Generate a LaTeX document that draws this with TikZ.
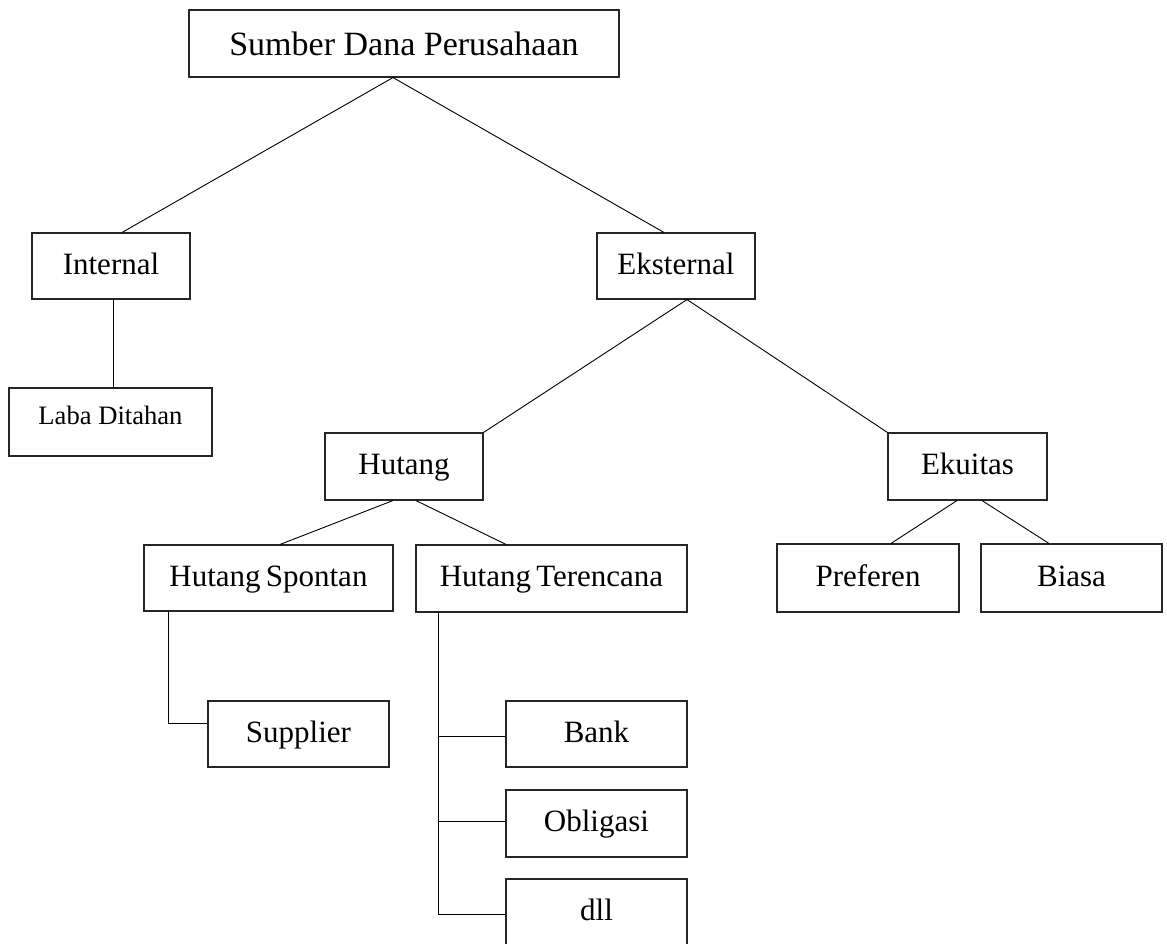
\documentclass[tikz,border=0pt]{standalone}
\usepackage{fontspec}
\setmainfont{Liberation Serif}
\usetikzlibrary{calc}
\begin{document}
\begin{tikzpicture}[x=1pt,y=-1pt,
  box/.style={draw=black!85, line width=1.1pt, inner sep=0pt, align=center,
    text height=22pt, text depth=6pt,
    font=\fontsize{31}{36}\selectfont},
  link/.style={draw=black, line width=0.9pt}]
\clip (0,0) rectangle (1167,943);
\fill[white] (0,0) rectangle (1167,943);

% nodes
\node[box, minimum width=430pt, minimum height=67pt, text height=27pt, text depth=4pt,
  font=\fontsize{34}{40}\selectfont] (sumber) at (404,43.5) {Sumber Dana Perusahaan};
\node[box, minimum width=158pt, minimum height=66pt] (internal) at (111,266) {Internal};
\node[box, minimum width=158pt, minimum height=66pt] (eksternal) at (676,266) {Eksternal};
\node[box, minimum width=203pt, minimum height=68pt, text height=17pt, text depth=12.4pt,
  font=\fontsize{26.6}{31}\selectfont] (laba) at (110.5,422) {Laba Ditahan};
\node[box, minimum width=158pt, minimum height=67pt] (hutang) at (404,466.5) {Hutang};
\node[box, minimum width=159pt, minimum height=67pt] (ekuitas) at (967.5,466.5) {Ekuitas};
\node[box, minimum width=249pt, minimum height=66pt] (hs) at (268.5,578) {Hutang\,Spontan};
\node[box, minimum width=271pt, minimum height=67pt] (ht) at (551.5,578.5) {Hutang\,Terencana};
\node[box, minimum width=182pt, minimum height=68pt] (pref) at (868,578) {Preferen};
\node[box, minimum width=181pt, minimum height=68pt] (biasa) at (1071.5,578) {Biasa};
\node[box, minimum width=181pt, minimum height=66pt] (supplier) at (298.5,734) {Supplier};
\node[box, minimum width=181pt, minimum height=66pt] (bank) at (596.5,734) {Bank};
\node[box, minimum width=181pt, minimum height=67pt] (obligasi) at (596.5,823.5) {Obligasi};
\node[box, minimum width=181pt, minimum height=67pt] (dll) at (596.5,912.5) {dll};

% connectors
\path[link] ($(sumber.south)+(-11,0)$) -- ($(internal.north)+(11,0)$);
\path[link] ($(sumber.south)+(-11,0)$) -- ($(eksternal.north)+(-12,0)$);
\path[link] ($(internal.south)+(2,0)$) -- ($(laba.north)+(2.5,0)$);
\path[link] ($(eksternal.south)+(11,0)$) -- (hutang.north east);
\path[link] ($(eksternal.south)+(11,0)$) -- (ekuitas.north west);
\path[link] ($(hutang.south)+(-11,0)$) -- ($(hs.north)+(11.5,0)$);
\path[link] ($(hutang.south)+(12,0)$) -- ($(ht.north)+(-45.5,0)$);
\path[link] ($(ekuitas.south)+(-10.5,0)$) -- ($(pref.north)+(23,0)$);
\path[link] ($(ekuitas.south)+(14.5,0)$) -- ($(biasa.north)+(-22.5,0)$);

\coordinate (hsroot) at ($(hs.south)+(-100.5,0)$);
\coordinate (suppin) at ($(supplier.west)+(0,-11)$);
\path[link] (hsroot) |- (suppin);

\coordinate (htroot) at ($(ht.south)+(-113.5,0)$);
\coordinate (bankin) at ($(bank.west)+(0,2)$);
\coordinate (obligin) at ($(obligasi.west)+(0,-2.5)$);
\coordinate (dllin) at ($(dll.west)+(0,1.5)$);
\path[link] (htroot) |- (dllin);
\path[link] (htroot |- bankin) -- (bankin);
\path[link] (htroot |- obligin) -- (obligin);
\end{tikzpicture}
\end{document}
